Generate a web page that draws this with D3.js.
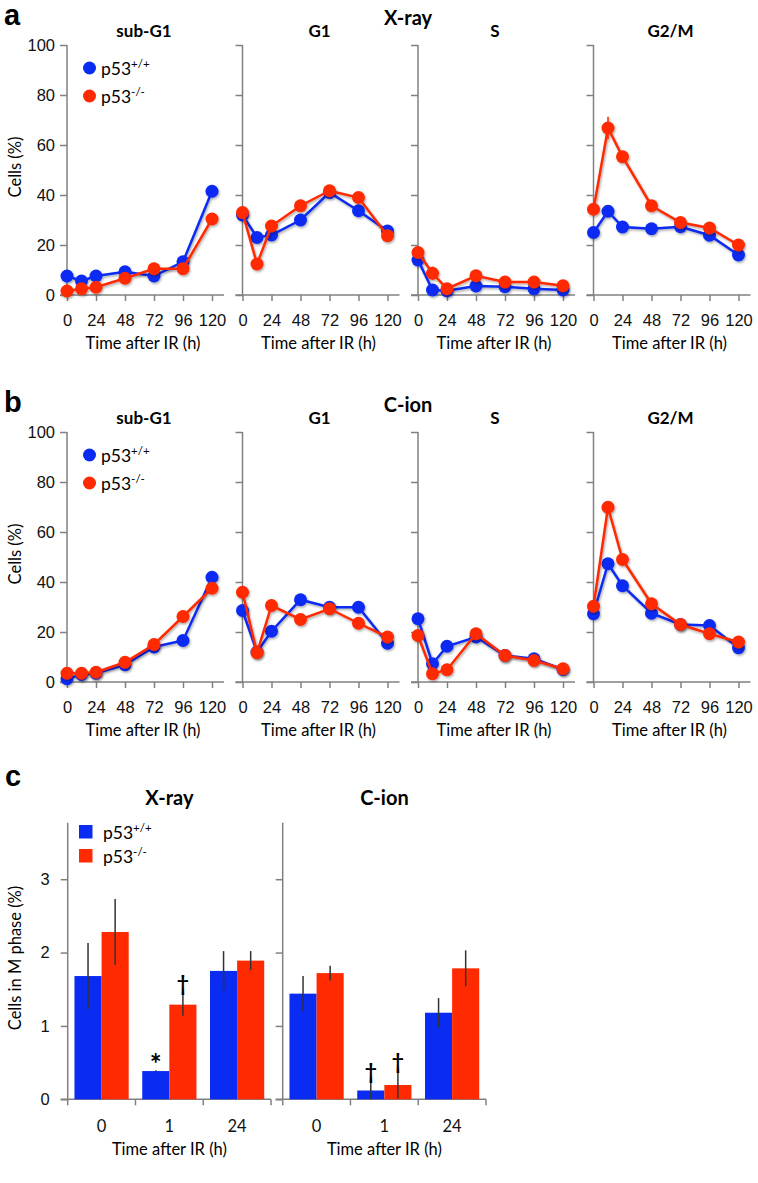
<!DOCTYPE html>
<html>
<head>
<meta charset="utf-8">
<script src="https://cdn.jsdelivr.net/npm/d3@7"></script>
<style>
  body { margin: 0; background: #fff; }
  svg { font-family: Lato, "Open Sans", sans-serif; }
  .axis path, .axis line { stroke: #808080; stroke-width: 1.5; }
  .axis text { font-size: 16.5px; fill: #111; }
</style>
</head>
<body>
<div id="chart"></div>
<script>
// time points (h) and phase names for panels a/b
const hours = [0, 12, 24, 48, 72, 96, 120];
const hourTicks = [0, 24, 48, 72, 96, 120];
const phases = ["sub-G1", "G1", "S", "G2/M"];

// panel a, X-ray: rows = sub-G1, G1, S, G2/M
const xrayWT = [
  [7.6, 5.6, 7.6, 9.3, 7.6, 13.3, 41.5],
  [32, 23, 24, 30, 41, 33.7, 25.6],
  [14, 2, 1.7, 3.6, 3.3, 2.5, 2],
  [25, 33.5, 27.2, 26.5, 27.3, 23.9, 16]
];
const xrayKO = [
  [1.6, 2.5, 3.1, 6.7, 10.5, 10.5, 30.4],
  [33, 12.4, 27.6, 35.7, 41.7, 39, 23.7],
  [17, 8.7, 2.5, 7.7, 5.2, 5.2, 3.7],
  [34.3, 66.8, 55.3, 35.7, 29, 26.8, 20]
];
const xrayKOErr = [
  [0, 0, 0, 0, 0, 0, 0],
  [0, 0, 0, 0, 0, 0, 0],
  [0, 2.6, 0, 0, 0, 0, 0],
  [0, 4.5, 0, 0, 0, 0, 0]
];

// panel b, C-ion
const cionWT = [
  [1.3, 3, 3.5, 6.9, 14, 16.6, 41.9],
  [28.6, 12, 20.3, 32.9, 29.9, 29.9, 15.5],
  [25.3, 7.3, 14.3, 18, 10.6, 9.3, 5],
  [27.3, 47.3, 38.5, 27.5, 23, 22.6, 13.7]
];
const cionKO = [
  [3.5, 3.5, 3.9, 7.9, 15, 26.2, 37.5],
  [35.9, 11.7, 30.6, 25, 29.3, 23.5, 18],
  [18.6, 3.3, 4.9, 19.3, 10.6, 8.6, 5.3],
  [30.3, 69.9, 49, 31.3, 23, 19.3, 16]
];

// panel c, cells in M phase (%)
const mTimes = ["0", "1", "24"];
const mXrayWT = [1.68, 0.385, 1.75];
const mXrayWTErr = [0.45, 0.01, 0.27];
const mXrayKO = [2.28, 1.29, 1.89];
const mXrayKOErr = [0.45, 0.15, 0.13];
const mCionWT = [1.44, 0.12, 1.18];
const mCionWTErr = [0.24, 0.12, 0.2];
const mCionKO = [1.72, 0.195, 1.785];
const mCionKOErr = [0.1, 0.18, 0.245];
// significance marks: [group, time index, series, symbol]
const mMarks = [[0, 1, 0, "*"], [0, 1, 1, "†"], [1, 1, 0, "†"], [1, 1, 1, "†"]];

const BLUE = "#0a2cf2", RED = "#ff2a00";
const W = 758, H = 1183;

const svg = d3.select("#chart").append("svg").attr("width", W).attr("height", H);
const defs = svg.append("defs");
defs.append("filter").attr("id", "sh").attr("x", "-20%").attr("y", "-20%").attr("width", "140%").attr("height", "140%")
  .append("feDropShadow").attr("dx", 1).attr("dy", 1.5).attr("stdDeviation", 1.2)
  .attr("flood-color", "#000").attr("flood-opacity", 0.35);

function legendLabel(g, x, y, sup) {
  const t = g.append("text").attr("x", x).attr("y", y).style("font-size", "17.5px").text("p53");
  t.append("tspan").attr("dy", -7).style("font-size", "11.5px").text(sup);
}

function linePanel(letter, title, top, wt, ko, koErr) {
  const bottom = top + 250;
  const y = d3.scaleLinear().domain([0, 100]).range([bottom, top]);
  const x0s = [67, 242.5, 418, 593.5];

  svg.append("text").attr("x", 4).attr("y", top - 20)
    .style("font-family", "'Liberation Sans', Arial, sans-serif")
    .style("font-weight", "bold").style("font-size", "29px").text(letter);
  svg.append("text").attr("x", 408).attr("y", top - 20).attr("text-anchor", "middle")
    .style("font-weight", "bold").style("font-size", "20px").text(title);
  svg.append("text").attr("transform", `translate(21,${(top + bottom) / 2 - 3}) rotate(-90)`)
    .attr("text-anchor", "middle").style("font-size", "16.5px").text("Cells (%)");

  phases.forEach((ph, i) => {
    const x0 = x0s[i];
    const x = d3.scaleLinear().domain([0, 120]).range([x0, x0 + 145]);
    const g = svg.append("g");

    g.append("text").attr("x", x0 + 77).attr("y", top - 8).attr("text-anchor", "middle")
      .style("font-weight", "bold").style("font-size", "17px").text(ph);

    const ya = g.append("g").attr("class", "axis").attr("transform", `translate(${x0},0)`)
      .call(d3.axisLeft(y).tickValues([0, 20, 40, 60, 80, 100]).tickSize(7).tickSizeOuter(0)
        .tickPadding(5).tickFormat(i === 0 ? d3.format("d") : ""));
    ya.select(".domain").remove();
    ya.append("line").attr("y1", bottom).attr("y2", top);

    const xa = g.append("g").attr("class", "axis").attr("transform", `translate(0,${bottom})`)
      .call(d3.axisBottom(x).tickValues(hourTicks).tickSize(6).tickSizeOuter(0).tickPadding(13));
    xa.select(".domain").remove();
    xa.append("line").attr("x1", x0 - 7).attr("x2", x0 + 157);
    g.append("text").attr("x", x0 + 76).attr("y", bottom + 54).attr("text-anchor", "middle")
      .style("font-size", "16.5px").text("Time after IR (h)");

    const line = d3.line().x((d, k) => x(hours[k])).y(d => y(d));
    [[wt[i], BLUE, null], [ko[i], RED, koErr ? koErr[i] : null]].forEach(([vals, col, err]) => {
      const s = g.append("g").attr("filter", "url(#sh)");
      if (err) {
        s.selectAll("line.err").data(vals).join("line").attr("class", "err")
          .attr("x1", (d, k) => x(hours[k])).attr("x2", (d, k) => x(hours[k]))
          .attr("y1", (d, k) => y(d + err[k])).attr("y2", (d, k) => y(d - err[k]))
          .attr("stroke", col).attr("stroke-width", 1.5);
      }
      s.append("path").datum(vals).attr("d", line).attr("fill", "none")
        .attr("stroke", col).attr("stroke-width", 2.5);
      s.selectAll("circle").data(vals).join("circle")
        .attr("cx", (d, k) => x(hours[k])).attr("cy", d => y(d)).attr("r", 6.5).attr("fill", col);
    });
  });

  // legend
  const lg = svg.append("g");
  lg.append("circle").attr("cx", 89.5).attr("cy", top + 23).attr("r", 6.5).attr("fill", BLUE);
  lg.append("circle").attr("cx", 89.5).attr("cy", top + 51).attr("r", 6.5).attr("fill", RED);
  legendLabel(lg, 101, top + 30, "+/+");
  legendLabel(lg, 101, top + 58, "-/-");
}

linePanel("a", "X-ray", 45, xrayWT, xrayKO, xrayKOErr);
linePanel("b", "C-ion", 432, cionWT, cionKO, null);

// panel c
(function () {
  const top = 822.7, bottom = 1099.3;
  const y = d3.scaleLinear().domain([0, 3.77]).range([bottom, top]);
  const groups = [
    { title: "X-ray", x0: 67.7, wt: mXrayWT, wtE: mXrayWTErr, ko: mXrayKO, koE: mXrayKOErr },
    { title: "C-ion", x0: 282.7, wt: mCionWT, wtE: mCionWTErr, ko: mCionKO, koE: mCionKOErr }
  ];

  svg.append("text").attr("x", 5).attr("y", top - 37)
    .style("font-family", "'Liberation Sans', Arial, sans-serif")
    .style("font-weight", "bold").style("font-size", "29px").text("c");
  svg.append("text").attr("transform", `translate(21,${(top + bottom) / 2 - 3}) rotate(-90)`)
    .attr("text-anchor", "middle").style("font-size", "16.5px").text("Cells in M phase (%)");

  groups.forEach((grp, gi) => {
    const x = d3.scaleBand().domain(mTimes).range([grp.x0, grp.x0 + 203.3]).paddingInner(0.2).paddingOuter(0.1);
    const g = svg.append("g");

    g.append("text").attr("x", grp.x0 + 101.7).attr("y", top - 18).attr("text-anchor", "middle")
      .style("font-weight", "bold").style("font-size", "20px").text(grp.title);

    const ya = g.append("g").attr("class", "axis").attr("transform", `translate(${grp.x0},0)`)
      .call(d3.axisLeft(y).tickValues([0, 1, 2, 3]).tickSize(7).tickSizeOuter(0)
        .tickPadding(11).tickFormat(gi === 0 ? d3.format("d") : ""));
    ya.select(".domain").remove();
    ya.append("line").attr("y1", bottom).attr("y2", top);

    // x axis: ticks at category boundaries, labels centred
    const xa = g.append("g").attr("class", "axis").attr("transform", `translate(0,${bottom})`);
    xa.append("line").attr("x1", grp.x0 - 7).attr("x2", grp.x0 + 203.3);
    xa.selectAll("line.tk").data(d3.range(mTimes.length + 1)).join("line").attr("class", "tk")
      .attr("x1", k => grp.x0 + k * 203.3 / 3).attr("x2", k => grp.x0 + k * 203.3 / 3)
      .attr("y1", 0).attr("y2", 6);
    xa.selectAll("text").data(mTimes).join("text")
      .attr("x", d => x(d) + x.bandwidth() / 2).attr("y", 33).attr("text-anchor", "middle").text(d => d);
    g.append("text").attr("x", grp.x0 + 101.7).attr("y", bottom + 56).attr("text-anchor", "middle")
      .style("font-size", "16.5px").text("Time after IR (h)");

    const series = [[grp.wt, grp.wtE, BLUE], [grp.ko, grp.koE, RED]];
    series.forEach(([vals, errs, col], si) => {
      const bw = x.bandwidth() / 2;
      g.selectAll(null).data(vals).join("rect")
        .attr("x", (d, k) => x(mTimes[k]) + si * bw).attr("width", bw)
        .attr("y", d => y(d)).attr("height", d => bottom - y(d)).attr("fill", col);
      g.selectAll(null).data(vals).join("line")
        .attr("x1", (d, k) => x(mTimes[k]) + si * bw + bw / 2)
        .attr("x2", (d, k) => x(mTimes[k]) + si * bw + bw / 2)
        .attr("y1", (d, k) => y(d + errs[k])).attr("y2", (d, k) => y(Math.max(0, d - errs[k])))
        .attr("stroke", "#333").attr("stroke-width", 1.5);
    });

    mMarks.filter(m => m[0] === gi).forEach(([, ti, si, sym]) => {
      const s = series[si];
      const bw = x.bandwidth() / 2;
      const cx = x(mTimes[ti]) + si * bw + bw / 2;
      const yTop = y(s[0][ti] + s[1][ti]);
      g.append("text").attr("x", cx).attr("y", sym === "*" ? yTop + 4 : yTop - 3)
        .attr("text-anchor", "middle").style("font-weight", "bold")
        .style("font-size", sym === "*" ? "28px" : "21px").text(sym);
    });
  });

  const lg = svg.append("g");
  lg.append("rect").attr("x", 79).attr("y", 825).attr("width", 13.5).attr("height", 13.5).attr("fill", BLUE);
  lg.append("rect").attr("x", 79).attr("y", 849).attr("width", 13.5).attr("height", 13.5).attr("fill", RED);
  legendLabel(lg, 103, 839, "+/+");
  legendLabel(lg, 103, 863, "-/-");
})();
</script>
</body>
</html>
